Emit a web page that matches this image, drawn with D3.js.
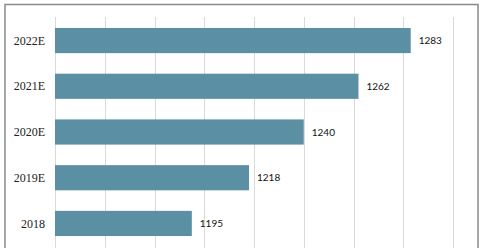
<!DOCTYPE html>
<html>
<head>
<meta charset="utf-8">
<script src="https://cdn.jsdelivr.net/npm/d3@7"></script>
<style>
  body { margin: 0; background: #fff; }
  svg { display: block; }
</style>
</head>
<body>
<div id="chart"></div>
<script>
const width = 485;
const height = 248;

// Data
const years = ['2022E', '2021E', '2020E', '2019E', '2018'];
const values = [1283, 1262, 1240, 1218, 1195];
const ticks = [1140, 1160, 1180, 1200, 1220, 1240, 1260, 1280, 1300];

const svg = d3
  .select('#chart')
  .append('svg')
  .attr('width', width)
  .attr('height', height);

// Outer frame
svg
  .append('rect')
  .attr('x', 5)
  .attr('y', 4.5)
  .attr('width', 473)
  .attr('height', 260)
  .attr('fill', 'none')
  .attr('stroke', '#8a8a8a')
  .attr('stroke-width', 1.5);

const x = d3.scaleLinear().domain([1140, 1300]).range([55, 453]);

const y = d3
  .scaleBand()
  .domain(years)
  .range([17, 247])
  .paddingInner(0.45)
  .paddingOuter(0.24);

// Gridlines
svg
  .append('g')
  .selectAll('line')
  .data(ticks)
  .join('line')
  .attr('x1', (d) => Math.round(x(d)) + 0.5)
  .attr('x2', (d) => Math.round(x(d)) + 0.5)
  .attr('y1', 17)
  .attr('y2', height)
  .attr('stroke', '#d9d9d9')
  .attr('stroke-width', 1);

// Bars
svg
  .append('g')
  .selectAll('rect')
  .data(values)
  .join('rect')
  .attr('x', x(1140))
  .attr('y', (d, i) => y(years[i]))
  .attr('width', (d) => x(d) - x(1140))
  .attr('height', y.bandwidth())
  .attr('fill', '#5b8fa4');

// Category labels
svg
  .append('g')
  .selectAll('text')
  .data(years)
  .join('text')
  .attr('x', 45)
  .attr('y', (d) => y(d) + y.bandwidth() / 2)
  .attr('dy', '0.35em')
  .attr('text-anchor', 'end')
  .style('font-family', '"Liberation Serif", serif')
  .style('font-size', '12px')
  .style('fill', '#222')
  .text((d) => d);

// Value labels
svg
  .append('g')
  .selectAll('text')
  .data(values)
  .join('text')
  .attr('x', (d) => x(d) + 8)
  .attr('y', (d, i) => y(years[i]) + y.bandwidth() / 2)
  .attr('dy', '0.35em')
  .style('font-family', 'Lato, sans-serif')
  .style('font-size', '10px')
  .style('fill', '#111')
  .text((d) => d);
</script>
</body>
</html>
